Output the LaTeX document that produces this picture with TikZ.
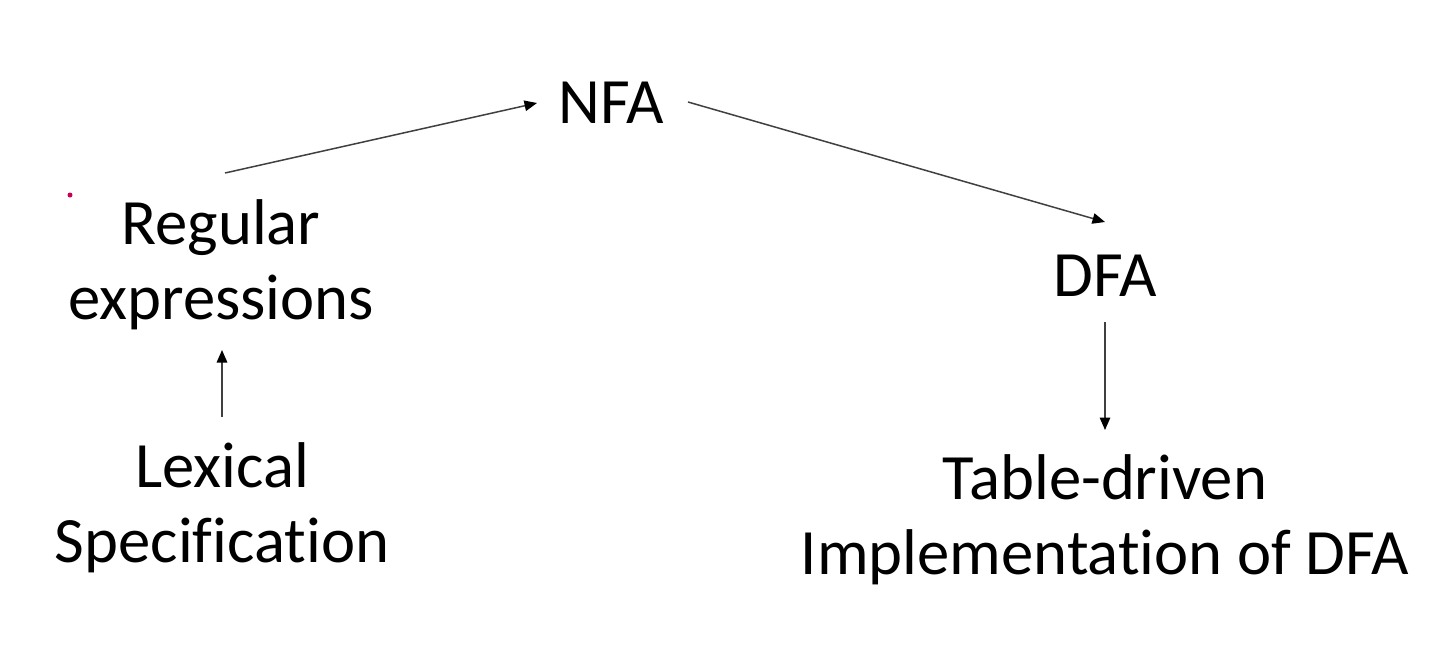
\documentclass[tikz,border=0pt]{standalone}
\usepackage{fontspec}
\setmainfont[Ligatures={NoCommon}]{Carlito}
\usetikzlibrary{arrows.meta,calc}
\begin{document}
\begin{tikzpicture}[x=0.02cm,y=-0.02cm,
  lbl/.style={inner sep=0pt,align=center,font=\fontsize{36.8}{42.7}\selectfont},
  arr/.style={draw=black!75,line width=0.85pt,-{Triangle[length=0.25cm,width=0.21cm,color=black]}}]
\fill[white] (0,0) rectangle (1432,646);
\useasboundingbox (0,0) rectangle (1432,646);
\node[lbl] (nfa) at (611,103) {NFA};
\node[lbl] (dfa) at (1105,276) {DFA};
\node[lbl] (reg) at (221,265) {Regular\\expressions};
\node[lbl] (lex) at (222,508) {Lexical\\Specification};
\node[lbl] (tab) at (1105,519.5) {Table-driven\\Implementation of DFA};
\fill[red!60!magenta!80!black] (70,195) circle (2.5);
\draw[arr] ($(reg)+(4,-92)$) -- ($(nfa)+(-74,0)$);
\draw[arr] ($(nfa)+(77,-1)$) -- ($(dfa)+(0,-54)$);
\draw[arr] ($(dfa)+(0,46)$) -- ($(tab)+(0,-89.5)$);
\draw[arr] ($(lex)+(0,-91)$) -- ($(reg)+(1,85)$);
\end{tikzpicture}
\end{document}
